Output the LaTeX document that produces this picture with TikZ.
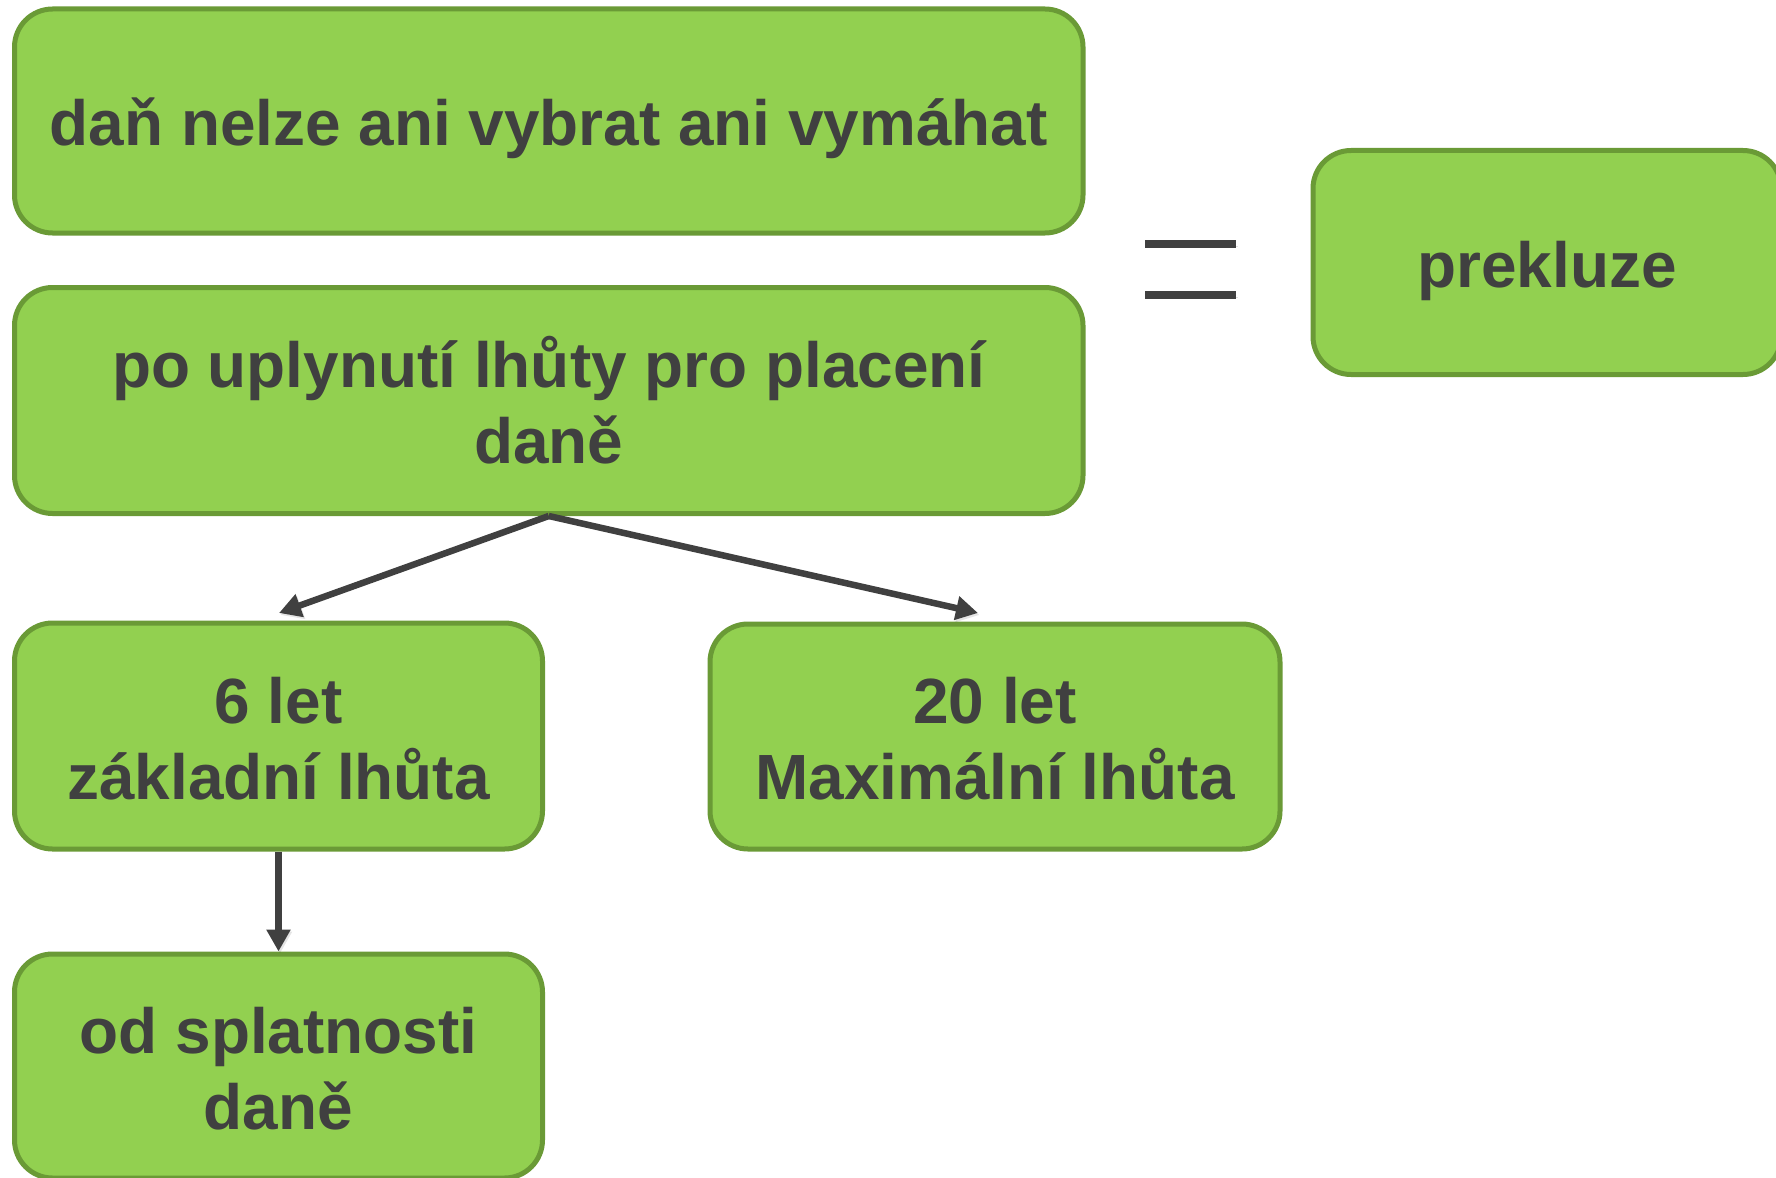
\documentclass[tikz,border=0pt]{standalone}
\usepackage{fontspec}
\setmainfont{Liberation Sans}
\usetikzlibrary{arrows.meta}
\definecolor{boxfill}{RGB}{146,208,80}
\definecolor{boxline}{RGB}{106,154,54}
\definecolor{txt}{RGB}{64,64,64}
\newcommand\mystrut{\rule[-20pt]{0pt}{90pt}}
\newcommand\boxfont{\fontsize{63.9}{76}\selectfont\bfseries\lineskiplimit=-1000pt\relax}
\begin{document}
\begin{tikzpicture}[x=1pt,y=-1pt,
  box/.style={draw=boxline, fill=boxfill, line width=5pt, rounded corners=38pt,
    align=center, text=txt, font=\boxfont, inner sep=0pt},
  arr/.style={draw=txt, line width=6.5pt, -{Triangle[width=23pt,length=22pt]},
    preaction={draw=black, draw opacity=0.1, fill opacity=0.1, transform canvas={shift={(1.5pt,-2pt)}}}},
  eqbar/.style={draw=txt, line width=8pt,
    preaction={draw=black, draw opacity=0.12, transform canvas={shift={(1.5pt,-2.5pt)}}}}]
\useasboundingbox (0,0) rectangle (1776,1177);
\node[box, minimum width=1068.5pt, minimum height=224pt] (b1) at (548.75,121)
  {\mystrut daň nelze ani vybrat ani vymáhat};
\node[box, minimum width=1068.5pt, minimum height=226pt] (b2) at (548.75,400.5)
  {\mystrut po uplynutí lhůty pro placení\\\mystrut daně};
\node[box, minimum width=528pt, minimum height=226pt] (b3) at (278.5,736)
  {\mystrut 6 let\\\mystrut základní lhůta};
\node[box, minimum width=570pt, minimum height=225pt] (b4) at (995,736.5)
  {\mystrut 20 let\\\mystrut Maximální lhůta};
\node[box, minimum width=528pt, minimum height=224pt] (b5) at (278.5,1066)
  {\mystrut od splatnosti\\\mystrut daně};
\node[box, minimum width=468pt, minimum height=224pt] (b6) at (1547,262.5)
  {\mystrut prekluze};
% equals sign
\coordinate (e1a) at (1145,243.5);
\coordinate (e1b) at (1236,243.5);
\coordinate (e2a) at (1145,294.5);
\coordinate (e2b) at (1236,294.5);
\draw[eqbar] (e1a) -- (e1b);
\draw[eqbar] (e2a) -- (e2b);
% connectors
\coordinate (t1) at (279,613);
\coordinate (t2) at (978,613);
\draw[arr] (b2.south) -- (t1);
\draw[arr] (b2.south) -- (t2);
\draw[arr] (b3.south) -- (b5.north);
\end{tikzpicture}
\end{document}
